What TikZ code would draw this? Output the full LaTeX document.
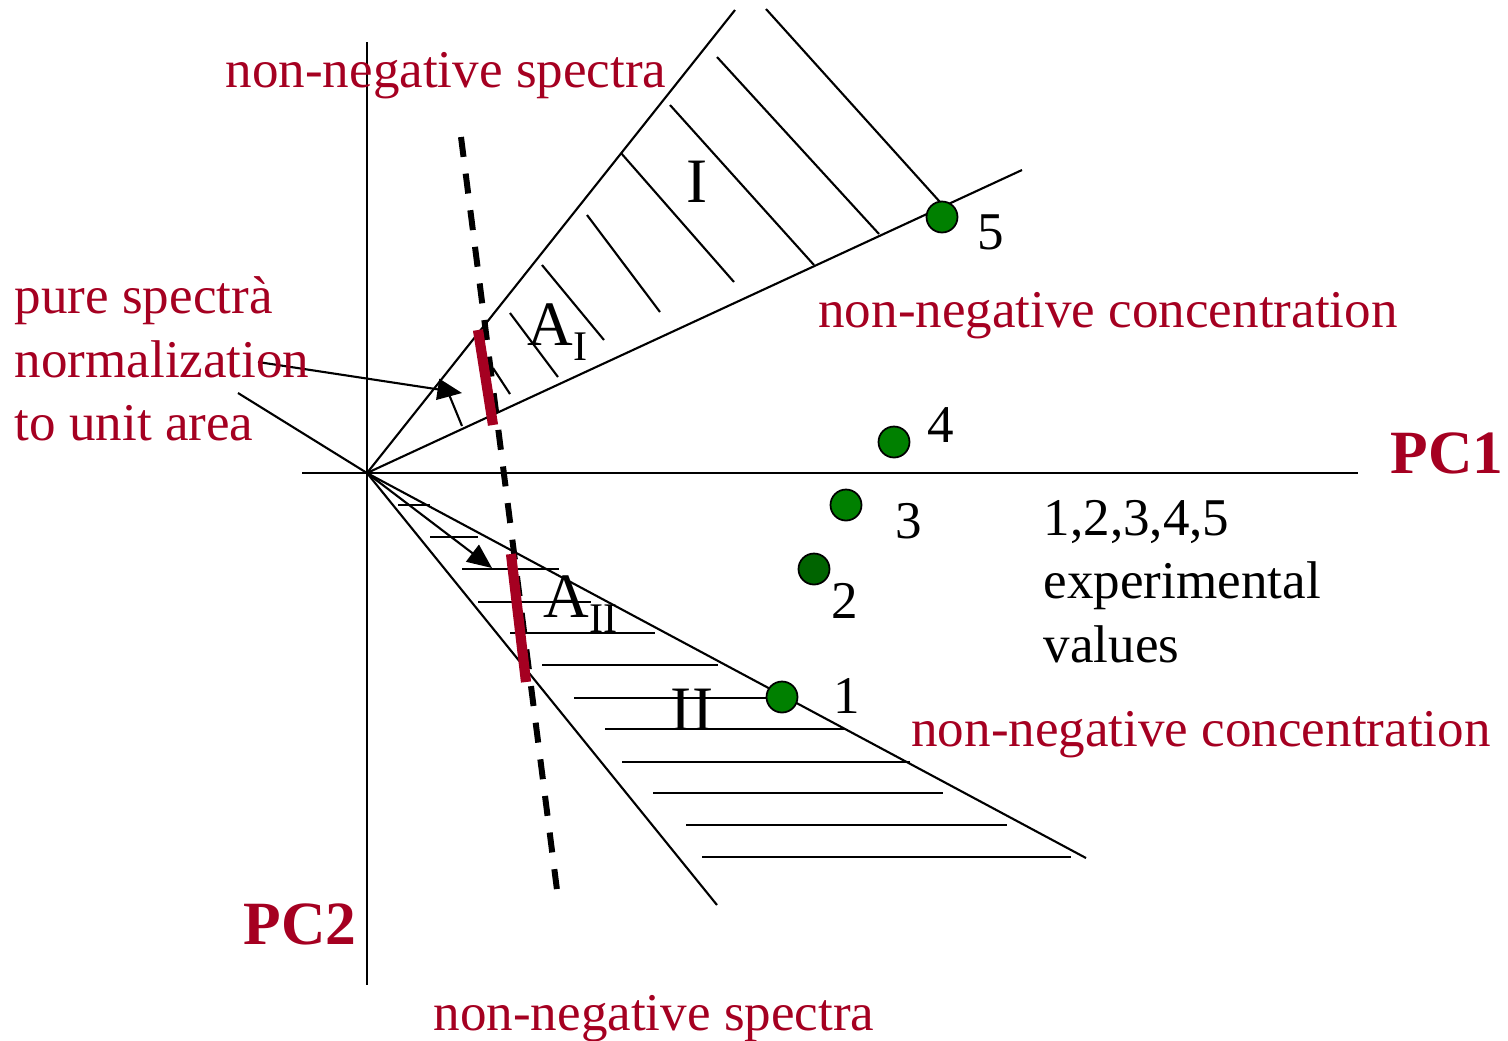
\documentclass[tikz,border=0pt]{standalone}
\usepackage{fontspec}
\setmainfont{Liberation Serif}
\usetikzlibrary{arrows.meta}
\definecolor{specred}{HTML}{A50021}
\definecolor{ptgreen}{HTML}{008000}
\definecolor{ptdark}{HTML}{006400}

\begin{document}
\begin{tikzpicture}[x=0.1mm, y=-0.1mm,
    line/.style={line width=0.6pt},
    hatch/.style={line width=0.6pt},
    dashline/.style={line width=1.7pt, dash pattern=on 5.7pt off 4.8pt},
    redbar/.style={draw=specred, line width=2.9pt},
    arrow/.style={line width=0.6pt, -{Triangle[length=7pt, width=6pt]}},
    point/.style={circle, draw=black, line width=0.5pt, fill=ptgreen, minimum size=3.1mm, inner sep=0pt},
    note/.style={font=\fontsize{15.1}{18}\selectfont, text=specred, inner sep=0pt},
    num/.style={font=\fontsize{15.1}{18}\selectfont, inner sep=0pt, anchor=base west},
    region/.style={font=\fontsize{18}{21}\selectfont, inner sep=0pt},
    axislabel/.style={font=\fontsize{17.5}{20}\selectfont\bfseries, text=specred, inner sep=0pt, anchor=base}
]
\useasboundingbox (0,0) rectangle (1508,1040);

% Axes
\coordinate (O) at (367,473);
\coordinate (pc1start) at (302,473);
\coordinate (pc1end) at (1358,473);
\coordinate (pc2start) at (367,42);
\coordinate (pc2end) at (367,985);
\draw[line] (pc1start) -- (pc1end);
\draw[line] (pc2start) -- (pc2end);
\node[axislabel] (pc1) at (1447,473) {PC1};
\node[axislabel] (pc2) at (300,944) {PC2};

% Cone I (upper)
\coordinate (upA) at (735,10);
\coordinate (upB) at (1022,170);
\draw[line] (O) -- (upA);
\draw[line] (O) -- (upB);
\draw[hatch] (766,9) -- (940,202)
    (717,57) -- (879,234)
    (670,105) -- (814,265)
    (621,153) -- (734,282)
    (587,215) -- (660,312)
    (542,265) -- (604,340)
    (510,313) -- (558,377)
    (493,368) -- (510,394);

% Cone II (lower)
\coordinate (lowA) at (1086,858);
\coordinate (lowB) at (717,905);
\draw[line] (O) -- (lowA);
\draw[line] (O) -- (lowB);
\draw[hatch] (398,505) -- (430,505)
    (430,537) -- (478,537)
    (462,569) -- (559,569)
    (478,602) -- (591,602)
    (510,633) -- (655,633)
    (542,665) -- (718,665)
    (574,698) -- (768,698)
    (605,729) -- (846,729)
    (622,762) -- (910,762)
    (653,793) -- (943,793)
    (686,825) -- (1007,825)
    (702,857) -- (1071,857);

% Normalization line
\coordinate (dashtop) at (461,137);
\coordinate (dashbot) at (557,890);
\draw[dashline] (dashtop) -- (dashbot);
\coordinate (barAtop) at (478,330);
\coordinate (barAbot) at (493,425);
\coordinate (barBtop) at (511,554);
\coordinate (barBbot) at (526,682);
\draw[redbar] (barAtop) -- (barAbot);
\draw[redbar] (barBtop) -- (barBbot);

% Arrows
\coordinate (normstart) at (258,362);
\coordinate (normtip) at (462,393);
\coordinate (vecfoot) at (462,426);
\coordinate (vechead) at (448,392);
\coordinate (leftend) at (238,393);
\coordinate (lowtip) at (492,568);
\draw[arrow] (normstart) -- (normtip);
\draw[line] (vecfoot) -- (vechead);
\draw[line] (leftend) -- (O);
\draw[arrow] (O) -- (lowtip);

% Region labels
\node[region, anchor=base] (regI) at (697,202) {I};
\node[region, anchor=base] (regII) at (692,730) {II};
\node[region, anchor=base west] (areaI) at (527,345) {A\raisebox{-4.5pt}{\fontsize{12}{12}\selectfont I}};
\node[region, anchor=base west] (areaII) at (543,617) {A\raisebox{-4.5pt}{\fontsize{12}{12}\selectfont II}};

% Experimental points
\node[point] (p5) at (942,217) {};
\node[point] (p4) at (894,442) {};
\node[point] (p3) at (846,505) {};
\node[point, fill=ptdark] (p2) at (814,569) {};
\node[point] (p1) at (782,697) {};
\node[num] (n5) at (977,249) {5};
\node[num] (n4) at (927,442) {4};
\node[num] (n3) at (895,538) {3};
\node[num] (n2) at (831,618) {2};
\node[num] (n1) at (833,713) {1};

% Texts
\node[note, anchor=base] (specup) at (446,87) {non-negative spectra};
\node[note, anchor=base] (speclow) at (654,1030) {non-negative spectra};
\node[note, anchor=base] (concup) at (1108,327) {non-negative concentration};
\node[note, anchor=base] (conclow) at (1201,746) {non-negative concentration};
\node[note, anchor=base west] (pure1) at (14,313) {pure spectrà};
\node[note, anchor=base west] (pure2) at (14,377) {normalization};
\node[note, anchor=base west] (pure3) at (14,440) {to unit area};
\node[num] (exp1) at (1043,535) {1,2,3,4,5};
\node[num] (exp2) at (1043,598) {experimental};
\node[num] (exp3) at (1043,662) {values};

\end{tikzpicture}
\end{document}
